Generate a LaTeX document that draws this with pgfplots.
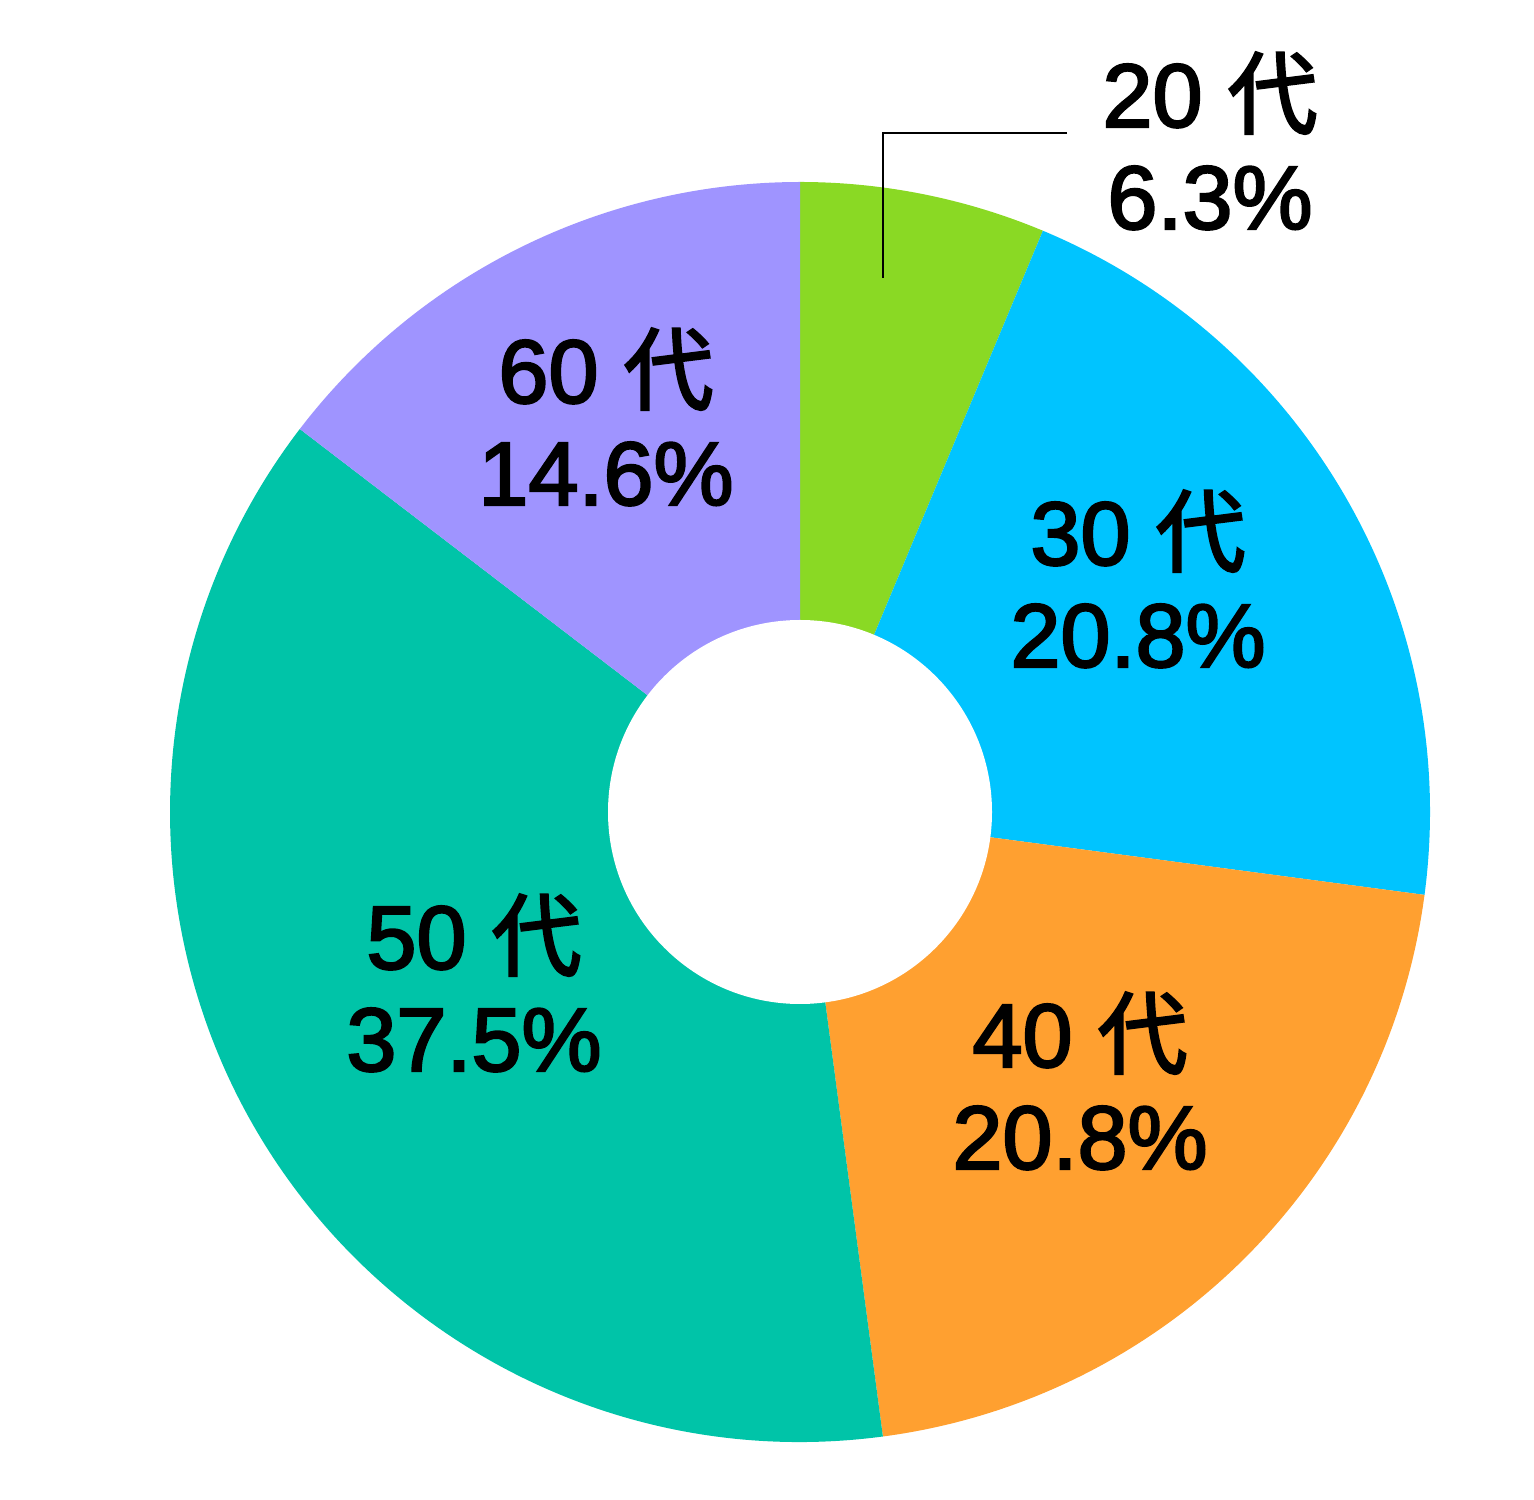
\documentclass[border=0pt]{standalone}
\usepackage{pgfplots}
\pgfplotsset{compat=1.18}
\usepackage{pgfplotstable}
\usepackage{fontspec}
\setmainfont{Liberation Sans}[FakeBold=2.5]
\newfontfamily\cjk{Noto Sans CJK JP}[FakeBold=2.5]

\definecolor{c20}{HTML}{8AD924}
\definecolor{c30}{HTML}{00C4FF}
\definecolor{c40}{HTML}{FFA030}
\definecolor{c50}{HTML}{00C4A8}
\definecolor{c60}{HTML}{9F94FF}

% share of each age group, in %, clockwise from the top
\pgfplotstableread{
age share color
20  6.3   c20
30  20.8  c30
40  20.8  c40
50  37.5  c50
60  14.6  c60
}\agedata

\begin{document}
\begin{tikzpicture}
\begin{axis}[
  x=0.5pt, y=0.5pt,
  xmin=-800, xmax=734, ymin=-687, ymax=812,
  enlargelimits=false,
  hide axis, clip=false,
]
\path (axis cs:-800,-687) rectangle (axis cs:734,812);
\pgfplotstablegetrowsof{\agedata}
\pgfmathtruncatemacro\lastrow{\pgfplotsretval-1}
\def\startangle{90}
\pgfplotsforeachungrouped \i in {0,...,\lastrow}{
  \pgfplotstablegetelem{\i}{share}\of\agedata \let\share\pgfplotsretval
  \pgfplotstablegetelem{\i}{color}\of\agedata \let\col\pgfplotsretval
  \pgfmathsetmacro\endangle{\startangle-3.6*\share}
  \edef\wedge{\noexpand\fill[\col] (axis cs:0,0) -- ++(\startangle:315pt)
    arc[start angle=\startangle, end angle=\endangle, radius=315pt] -- cycle;}
  \wedge
  \global\let\startangle\endangle
}
\fill[white] (axis cs:0,0) circle[radius=96pt];

% leader for the small slice
\draw[line width=0.75pt] (axis cs:267,679) -- (axis cs:83,679) -- (axis cs:83,534);

\tikzset{lbl/.style={align=center, inner sep=0pt, font=\fontsize{45}{51}\selectfont}}
\node[lbl] at (axis cs:410,671)  {20 {\cjk 代}\\6.3\%};
\node[lbl] at (axis cs:338,233)  {30 {\cjk 代}\\20.8\%};
\node[lbl] at (axis cs:280,-269) {40 {\cjk 代}\\20.8\%};
\node[lbl] at (axis cs:-326,-171) {50 {\cjk 代}\\37.5\%};
\node[lbl] at (axis cs:-194,395) {60 {\cjk 代}\\14.6\%};
\end{axis}
\end{tikzpicture}
\end{document}
